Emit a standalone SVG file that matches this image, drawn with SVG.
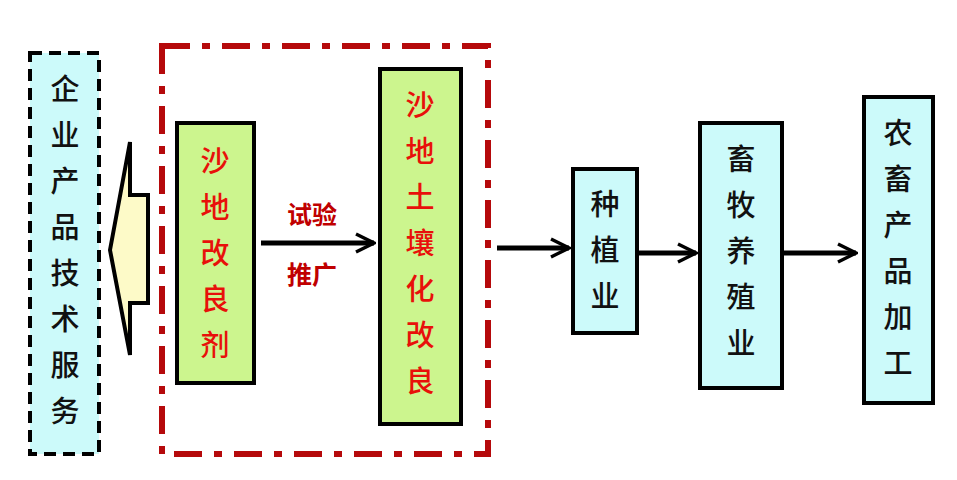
<svg xmlns="http://www.w3.org/2000/svg" width="957" height="480" viewBox="0 0 957 480">
<style>
.t{font-family:"Noto Sans CJK SC","Liberation Serif",serif;font-size:29px;text-anchor:middle;font-weight:500}
.r{fill:#e8100a}.k{fill:#111}
.g{fill:#ccf58e;stroke:#000;stroke-width:4}
.c{fill:#ccfafa;stroke:#000;stroke-width:4}
.ln{stroke:#000;stroke-width:5;fill:none}
</style>
<defs><marker id="a" viewBox="0 0 10 10" refX="9" refY="5" markerWidth="4.5" markerHeight="4.5" orient="auto" markerUnits="strokeWidth"><path d="M1,1 L9,5 L1,9" fill="none" stroke="#000" stroke-width="1.5"/></marker></defs>
<rect x="0" y="0" width="957" height="480" fill="#fff"/>
<g id="frame"><rect x="162" y="46" width="326" height="408" fill="none" stroke="#b5090b" stroke-width="6" stroke-dasharray="28,12,8,12"/></g>
<g id="n1"><rect x="30" y="53" width="69" height="401" fill="#ccfafa" stroke="#000" stroke-width="4" stroke-dasharray="12,7"/>
<text class="t k" x="65" y="100">企</text><text class="t k" x="65" y="146">业</text><text class="t k" x="65" y="192">产</text><text class="t k" x="65" y="238">品</text><text class="t k" x="65" y="284">技</text><text class="t k" x="65" y="330">术</text><text class="t k" x="65" y="376">服</text><text class="t k" x="65" y="422">务</text></g>
<g id="bigarrow"><path d="M110,250 L130,142 L130,195 L148,195 L148,303 L130,303 L130,355 Z" fill="#fdfac8" stroke="#000" stroke-width="4" stroke-linejoin="miter"/></g>
<g id="n2"><rect class="g" x="177" y="123" width="77" height="260"/>
<text class="t r" x="215" y="172">沙</text><text class="t r" x="215" y="218">地</text><text class="t r" x="215" y="264">改</text><text class="t r" x="215" y="310">良</text><text class="t r" x="215" y="356">剂</text></g>
<g id="n3"><rect class="g" x="380" y="69" width="81" height="355"/>
<text class="t r" x="420" y="116">沙</text><text class="t r" x="420" y="162">地</text><text class="t r" x="420" y="208">土</text><text class="t r" x="420" y="254">壤</text><text class="t r" x="420" y="300">化</text><text class="t r" x="420" y="346">改</text><text class="t r" x="420" y="392">良</text></g>
<g id="n4"><rect class="c" x="573" y="169" width="64" height="164"/>
<text class="t k" x="605" y="215">种</text><text class="t k" x="605" y="261">植</text><text class="t k" x="605" y="307">业</text></g>
<g id="n5"><rect class="c" x="700" y="123" width="82" height="265"/>
<text class="t k" x="741" y="170">畜</text><text class="t k" x="741" y="216">牧</text><text class="t k" x="741" y="262">养</text><text class="t k" x="741" y="308">殖</text><text class="t k" x="741" y="354">业</text></g>
<g id="n6"><rect class="c" x="864" y="97" width="69" height="306"/>
<text class="t k" x="898" y="144">农</text><text class="t k" x="898" y="190">畜</text><text class="t k" x="898" y="236">产</text><text class="t k" x="898" y="282">品</text><text class="t k" x="898" y="328">加</text><text class="t k" x="898" y="374">工</text></g>
<g id="connectors">
<line class="ln" x1="261" y1="243" x2="374" y2="243" marker-end="url(#a)"/>
<line class="ln" x1="497" y1="248" x2="569" y2="248" marker-end="url(#a)"/>
<line class="ln" x1="637" y1="253" x2="696" y2="253" marker-end="url(#a)"/>
<line class="ln" x1="782" y1="253" x2="856" y2="253" marker-end="url(#a)"/>
<text class="t" x="312" y="224" style="font-size:25px;fill:#c00000;font-weight:bold">试验</text>
<text class="t" x="312" y="284" style="font-size:25px;fill:#c00000;font-weight:bold">推广</text>
</g>
</svg>
